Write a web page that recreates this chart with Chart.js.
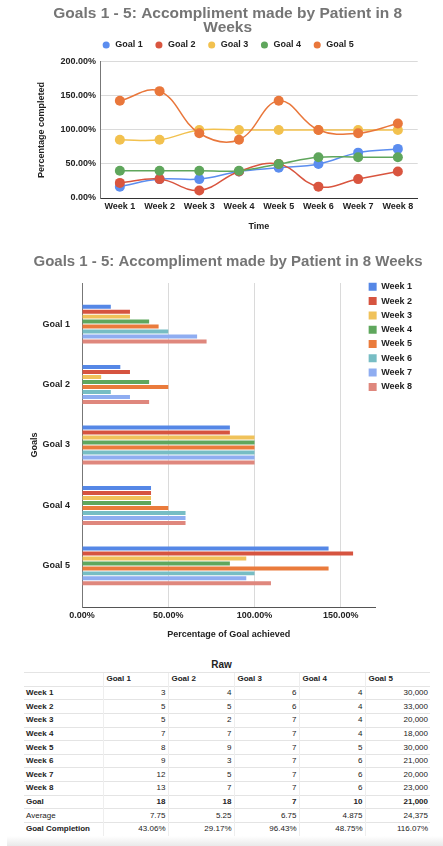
<!DOCTYPE html>
<html>
<head>
<meta charset="utf-8">
<script src="https://cdn.jsdelivr.net/npm/chart.js@4.4.1/dist/chart.umd.min.js"></script>
<style>
  body { margin: 0; width: 443px; height: 846px; background: #fff; position: relative; overflow: hidden;
         font-family: "Liberation Sans", Arial, sans-serif; }
  #lineBox { position: absolute; left: 0; top: 0; width: 443px; height: 240px; }
  #barBox { position: absolute; left: 0; top: 245px; width: 443px; height: 400px; }
  #rawTitle { position: absolute; left: 0; width: 443px; top: 659px; text-align: center;
              font-weight: bold; font-size: 10px; color: #222; }
  #raw { position: absolute; left: 24px; top: 672px; width: 406px; border-collapse: collapse;
         table-layout: fixed; font-size: 8px; color: #222; }
  #raw td { height: 12.65px; padding: 0 2px; border-top: 1px solid #e4e4e4; border-left: 1px solid #eeeeee;
            line-height: 12px; white-space: nowrap; text-align: right; }
  #raw td:first-child { border-left: none; text-align: left; }
  #raw tr.head td { text-align: left; font-weight: bold; padding-left: 3px; }
  #raw td.b { font-weight: bold; }
  #raw tr.goal td { font-weight: bold; }
  #shade { position: absolute; left: 7px; top: 836px; width: 436px; height: 10px;
           background: linear-gradient(#ffffff, #e9e9e9); }
</style>
</head>
<body>
<div id="lineBox"><canvas id="lineChart"></canvas></div>
<div id="barBox"><canvas id="barChart"></canvas></div>
<div id="rawTitle">Raw</div>
<table id="raw"></table>
<div id="shade"></div>
<script>
const weeks = ['Week 1', 'Week 2', 'Week 3', 'Week 4', 'Week 5', 'Week 6', 'Week 7', 'Week 8'];
const goals = ['Goal 1', 'Goal 2', 'Goal 3', 'Goal 4', 'Goal 5'];

// percentage of goal reached each week
const goal1Pct = [16.7, 27.8, 27.8, 38.9, 44.4, 50.0, 66.7, 72.2];
const goal2Pct = [22.2, 27.8, 11.1, 38.9, 50.0, 16.7, 27.8, 38.9];
const goal3Pct = [85.7, 85.7, 100, 100, 100, 100, 100, 100];
const goal4Pct = [40, 40, 40, 40, 50, 60, 60, 60];
const goal5Pct = [142.9, 157.1, 95.2, 85.7, 142.9, 100, 95.2, 109.5];
const allPct = [goal1Pct, goal2Pct, goal3Pct, goal4Pct, goal5Pct];

// raw table
const goal1Raw = ['3', '5', '5', '7', '8', '9', '12', '13'];
const goal2Raw = ['4', '5', '2', '7', '9', '3', '5', '7'];
const goal3Raw = ['6', '6', '7', '7', '7', '7', '7', '7'];
const goal4Raw = ['4', '4', '4', '4', '5', '6', '6', '6'];
const goal5Raw = ['30,000', '33,000', '20,000', '18,000', '30,000', '21,000', '20,000', '23,000'];
const goalTargets = ['18', '18', '7', '10', '21,000'];
const averages = ['7.75', '5.25', '6.75', '4.875', '24,375'];
const completion = ['43.06%', '29.17%', '96.43%', '48.75%', '116.07%'];

const goalColors = ['#5b8def', '#d9553f', '#f2c14e', '#5fa65c', '#e9773b'];
const weekColors = ['#5587e6', '#d65440', '#f0c25a', '#5fa75d', '#ea7b3c', '#77bdc4', '#8fadf1', '#df877d'];

const FONT = '"Liberation Sans", Arial, sans-serif';
const boldFont = { family: FONT, size: 9, weight: 'bold' };
const pctLabel = v => v.toFixed(2) + '%';

Chart.defaults.color = '#222';
Chart.defaults.animation = false;

// legends sit a little off from where Chart.js places them
const nudgeLegend = {
  id: 'nudgeLegend',
  afterLayout(chart, args, opts) {
    const lg = chart.legend;
    lg.left += opts.dx || 0; lg.right += opts.dx || 0;
    lg.top += opts.dy || 0; lg.bottom += opts.dy || 0;
  }
};
Chart.register(nudgeLegend);

// line chart
new Chart(document.getElementById('lineChart'), {
  type: 'line',
  data: {
    labels: weeks,
    datasets: goals.map((g, i) => ({
      label: g,
      data: allPct[i],
      borderColor: goalColors[i],
      backgroundColor: goalColors[i],
      borderWidth: 1.5,
      pointRadius: 5,
      pointBorderWidth: 0,
      tension: 0.4,
      order: goals.length - i
    }))
  },
  options: {
    responsive: true,
    maintainAspectRatio: false,
    layout: { padding: { left: 37.7, right: 25.3, top: 0, bottom: 7 } },
    plugins: {
      title: { display: true, text: ['Goals 1 - 5: Accompliment made by Patient in 8', 'Weeks'],
               color: '#757575', font: { family: FONT, size: 15.5, weight: 'bold', lineHeight: 0.87 },
               padding: { top: 7, bottom: -2.75 } },
      legend: {
        labels: { usePointStyle: true, boxWidth: 9, boxHeight: 5, padding: 11.75, font: boldFont,
                  sort: (a, b) => a.datasetIndex - b.datasetIndex }
      },
      nudgeLegend: { dx: 0, dy: -2.5 },
      tooltip: { enabled: false }
    },
    scales: {
      x: {
        offset: true,
        grid: { display: false, drawTicks: false },
        border: { color: '#333' },
        ticks: { font: boldFont, padding: 3, maxRotation: 0 },
        title: { display: true, text: 'Time', font: boldFont, padding: { top: 0, bottom: 1 } },
        afterFit: s => { s.height = 35; }
      },
      y: {
        min: 0, max: 200,
        ticks: { stepSize: 50, font: boldFont, padding: 4, callback: pctLabel },
        grid: { color: '#dadada', drawTicks: false },
        border: { color: '#777' },
        title: { display: true, text: 'Percentage completed', font: boldFont, padding: { top: -1.1, bottom: 0 } },
        afterFit: s => { s.width = 62.3; }
      }
    }
  }
});

// bar chart
new Chart(document.getElementById('barChart'), {
  type: 'bar',
  data: {
    datasets: weeks.map((w, i) => ({
      label: w,
      data: goals.map((g, j) => ({ x: allPct[j][i], y: j })),
      backgroundColor: weekColors[i],
      categoryPercentage: 0.66,
      barPercentage: 0.8
    }))
  },
  options: {
    indexAxis: 'y',
    responsive: true,
    maintainAspectRatio: false,
    layout: { padding: { left: 22, right: 9, top: 0, bottom: 2 } },
    plugins: {
      title: { display: true, text: 'Goals 1 - 5: Accompliment made by Patient in 8 Weeks',
               color: '#757575', font: { family: FONT, size: 15, weight: 'bold', lineHeight: 0.9 },
               padding: { top: 10, bottom: 14.5 } },
      legend: {
        position: 'right',
        align: 'start',
        fullSize: false,
        labels: { boxWidth: 8, boxHeight: 8, padding: 5.3, font: boldFont }
      },
      nudgeLegend: { dx: -12, dy: -6 },
      tooltip: { enabled: false }
    },
    scales: {
      x: {
        type: 'linear',
        min: 0, max: 170,
        ticks: { stepSize: 50, font: boldFont, padding: 3, callback: pctLabel, includeBounds: false },
        grid: { color: '#dadada', drawTicks: false },
        border: { color: '#555' },
        title: { display: true, text: 'Percentage of Goal achieved', font: boldFont, padding: { top: 0, bottom: 3 } },
        afterFit: s => { s.height = 36; }
      },
      y: {
        type: 'linear',
        offset: false,
        min: -0.68, max: 4.68,
        reverse: true,
        afterBuildTicks: s => { s.ticks = goals.map((g, j) => ({ value: j })); },
        ticks: { font: boldFont, padding: 4, callback: v => goals[v] },
        grid: { display: false, offset: false },
        border: { color: '#777' },
        title: { display: true, text: 'Goals', font: boldFont, padding: { top: 7.3, bottom: 0 } },
        afterFit: s => { s.width = 60; }
      }
    }
  }
});

// raw table
const rawCols = [goal1Raw, goal2Raw, goal3Raw, goal4Raw, goal5Raw];
const table = document.getElementById('raw');
let html = '<colgroup><col style="width:79px"><col style="width:65px"><col style="width:66px">' +
           '<col style="width:65px"><col style="width:66px"><col style="width:65px"></colgroup>';
html += '<tr class="head"><td></td>' + goals.map(g => '<td>' + g + '</td>').join('') + '</tr>';
weeks.forEach((w, i) => {
  html += '<tr><td class="b">' + w + '</td>' + rawCols.map(c => '<td>' + c[i] + '</td>').join('') + '</tr>';
});
html += '<tr class="goal"><td>Goal</td>' + goalTargets.map(v => '<td>' + v + '</td>').join('') + '</tr>';
html += '<tr><td>Average</td>' + averages.map(v => '<td>' + v + '</td>').join('') + '</tr>';
html += '<tr><td class="b">Goal Completion</td>' + completion.map(v => '<td>' + v + '</td>').join('') + '</tr>';
table.innerHTML = html;
</script>
</body>
</html>
